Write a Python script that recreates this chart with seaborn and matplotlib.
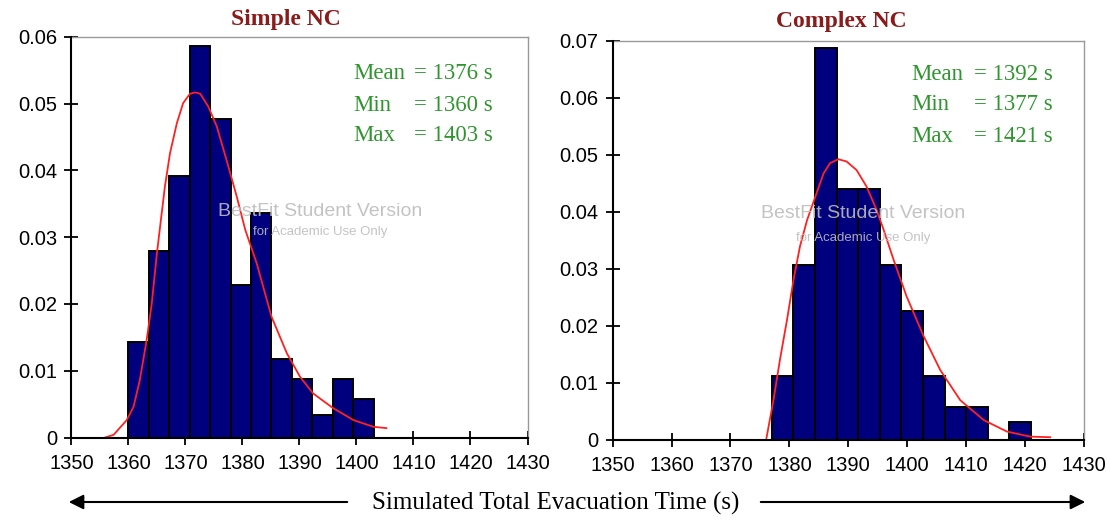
import numpy as np
import pandas as pd
import matplotlib
matplotlib.use("Agg")
import matplotlib.pyplot as plt
import seaborn as sns

# ---------------- data ----------------
panel_titles = ["Simple NC", "Complex NC"]
stat_labels = ["Mean", "Min", "Max"]
simple_stats = [1376, 1360, 1403]
complex_stats = [1392, 1377, 1421]
n_bins = 12

simple_heights = [0.0143, 0.0280, 0.0392, 0.0587, 0.0477, 0.0228,
                  0.0337, 0.0118, 0.0088, 0.0033, 0.0087, 0.0058]
complex_heights = [0.0111, 0.0306, 0.0687, 0.0439, 0.0439, 0.0306,
                   0.0226, 0.0111, 0.0057, 0.0057, 0.0000, 0.0030]

simple_fit_x = [1355.9, 1357.4, 1359.7, 1360.9, 1362.0, 1363.2, 1364.1, 1365.0,
                1366.4, 1367.3, 1368.5, 1369.6, 1370.8, 1371.7, 1372.6, 1374.0,
                1375.5, 1377.2, 1379.0, 1380.5, 1382.5, 1385.1, 1387.8, 1390.1,
                1392.4, 1395.9, 1399.5, 1403.0, 1405.3]
simple_fit_y = [0.0000, 0.0004, 0.0026, 0.0046, 0.0086, 0.0146, 0.0201, 0.0276,
                0.0376, 0.0426, 0.0471, 0.0501, 0.0515, 0.0517, 0.0515, 0.0496,
                0.0466, 0.0416, 0.0361, 0.0311, 0.0261, 0.0181, 0.0126, 0.0091,
                0.0066, 0.0044, 0.0026, 0.0016, 0.0014]

complex_fit_x = [1376.1, 1377.3, 1378.4, 1379.6, 1380.7, 1381.8, 1383.0, 1384.4,
                 1385.8, 1386.9, 1388.3, 1389.7, 1391.4, 1393.1, 1394.8, 1396.0,
                 1397.7, 1399.9, 1402.8, 1405.6, 1409.0, 1413.0, 1416.9, 1420.9,
                 1424.3]
complex_fit_y = [0.0002, 0.0069, 0.0140, 0.0210, 0.0280, 0.0339, 0.0385, 0.0426,
                 0.0467, 0.0485, 0.0492, 0.0488, 0.0473, 0.0444, 0.0403, 0.0368,
                 0.0315, 0.0251, 0.0181, 0.0122, 0.0069, 0.0034, 0.0014, 0.0005,
                 0.0004]

x_ticks = [1350, 1360, 1370, 1380, 1390, 1400, 1410, 1420, 1430]
simple_yticks = [0, 0.01, 0.02, 0.03, 0.04, 0.05, 0.06]
complex_yticks = [0, 0.01, 0.02, 0.03, 0.04, 0.05, 0.06, 0.07]
x_label = "Simulated Total Evacuation Time (s)"
watermark1 = "BestFit Student Version"
watermark2 = "for Academic Use Only"

# ---------------- style ----------------
sns.set_style("white")
plt.rcParams["font.family"] = ["Liberation Sans", "DejaVu Sans"]
SERIF = ["Liberation Serif", "DejaVu Serif"]
BAR = "#00007f"
TITLE_C = "#8b1a1a"
GREEN = "#2f962f"

W, H = 1111, 522
fig = plt.figure(figsize=(W / 100, H / 100), dpi=100)
fig.patch.set_facecolor("white")

axes_px = [(71.4, 37.0, 527.5, 437.5), (612.6, 40.7, 1084.0, 439.5)]
axs = []
for (l, t, r, b) in axes_px:
    axs.append(fig.add_axes([l / W, 1 - b / H, (r - l) / W, (b - t) / H]))

panels = [
    (simple_heights, simple_stats, simple_fit_x, simple_fit_y, simple_yticks),
    (complex_heights, complex_stats, complex_fit_x, complex_fit_y, complex_yticks),
]
stat_pos = [(0.619, 0.752, [0.908, 0.830, 0.753]),
            (0.634, 0.766, [0.914, 0.839, 0.760])]
title_px = [(286, 19), (841, 21)]
wm_px = [(320, 211, 232), (863, 213, 238)]

for i, ax in enumerate(axs):
    heights, stats, fx, fy, yt = panels[i]
    lo, hi = stats[1], stats[2]
    width = (hi - lo) / n_bins
    centers = [lo + width * (k + 0.5) for k in range(n_bins)]
    df = pd.DataFrame({"t": centers, "h": heights})
    sns.histplot(data=df, x="t", weights="h", bins=n_bins, binrange=(lo, hi),
                 stat="count", color=BAR, alpha=1, edgecolor="black",
                 linewidth=1.4, ax=ax, zorder=2)
    cdf = pd.DataFrame({"x": fx, "y": fy})
    sns.lineplot(data=cdf, x="x", y="y", color="#ff2020", linewidth=1.3,
                 ax=ax, zorder=4, sort=False)

    ax.set_xlim(1350, 1430)
    ax.set_ylim(0, yt[-1])
    ax.set_xticks(x_ticks)
    ax.set_yticks(yt)
    ax.set_yticklabels(["0" if v == 0 else f"{v:.2f}" for v in yt])
    ax.set_xlabel("")
    ax.set_ylabel("")
    ax.tick_params(axis="both", direction="inout", length=10, width=1.3,
                   color="black", labelsize=14.5, labelcolor="black",
                   bottom=True, left=True, top=False, right=False)
    ax.tick_params(axis="x", pad=7)
    ax.tick_params(axis="y", pad=5)
    for s in ["left", "bottom"]:
        ax.spines[s].set_color("black")
        ax.spines[s].set_linewidth(1.5)
        ax.spines[s].set_zorder(5)
    for s in ["top", "right"]:
        ax.spines[s].set_color("#9a9a9a")
        ax.spines[s].set_linewidth(1.0)
    ax.set_facecolor("white")

    # statistics text
    xl, xe, ys = stat_pos[i]
    for lab, val, yy in zip(stat_labels, stats, ys):
        ax.text(xl, yy, lab, transform=ax.transAxes, ha="left", va="center",
                fontsize=16.5, color=GREEN, family=SERIF)
        ax.text(xe, yy, f"= {val} s", transform=ax.transAxes, ha="left",
                va="center", fontsize=16.5, color=GREEN, family=SERIF)

    # watermark
    wx, wy1, wy2 = wm_px[i]
    fig.text(wx / W, 1 - wy1 / H, watermark1, ha="center", va="center",
             fontsize=14, color="#bdbdbd", alpha=0.9, zorder=10,
             family=["Liberation Sans", "DejaVu Sans"])
    fig.text(wx / W, 1 - wy2 / H, watermark2, ha="center", va="center",
             fontsize=9.5, color="#bdbdbd", alpha=0.9, zorder=10,
             family=["Liberation Sans", "DejaVu Sans"])

    # panel title
    tx, ty = title_px[i]
    fig.text(tx / W, 1 - ty / H, panel_titles[i], ha="center", va="center",
             fontsize=17, fontweight="bold", color=TITLE_C, family=SERIF)

# bottom axis label with arrows
fig.text(556 / W, 1 - 503 / H, x_label, ha="center", va="center",
         fontsize=18, color="black", family=SERIF)
ay = H - 502
fig.add_artist(matplotlib.patches.FancyArrowPatch(
    (350 / W, ay / H), (66 / W, ay / H), transform=fig.transFigure,
    arrowstyle="-|>", mutation_scale=22, color="black", linewidth=1.5))
fig.add_artist(matplotlib.patches.FancyArrowPatch(
    (758 / W, ay / H), (1088 / W, ay / H), transform=fig.transFigure,
    arrowstyle="-|>", mutation_scale=22, color="black", linewidth=1.5))

fig.savefig("out.png", dpi=100, facecolor="white")
